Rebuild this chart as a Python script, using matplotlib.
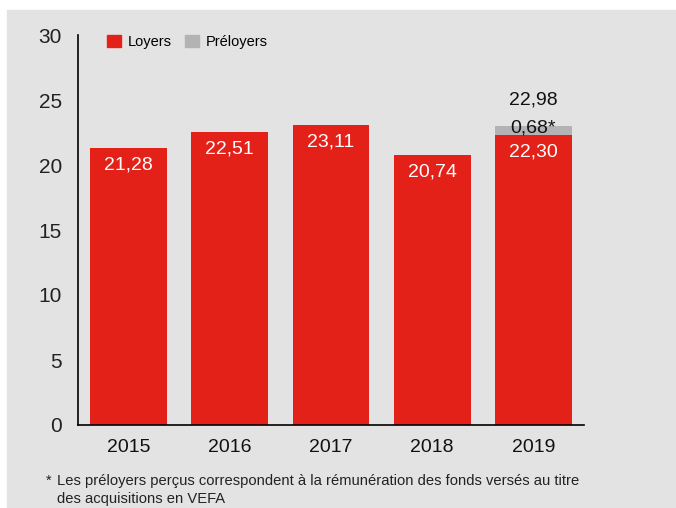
import matplotlib
matplotlib.use("Agg")
import matplotlib.pyplot as plt
from matplotlib.patches import Patch

years = ["2015", "2016", "2017", "2018", "2019"]
loyers = [21.28, 22.51, 23.11, 20.74, 22.30]
preloyers = [0, 0, 0, 0, 0.68]
totals = [21.28, 22.51, 23.11, 20.74, 22.98]
labels_loyers = ["21,28", "22,51", "23,11", "20,74", "22,30"]

red = "#e32119"
grey = "#b3b3b3"
bg = "#e3e3e3"

plt.rcParams["font.family"] = ["Liberation Sans", "DejaVu Sans"]
narrow = ["Liberation Sans Narrow", "Liberation Sans", "DejaVu Sans"]

fig = plt.figure(figsize=(6.76, 5.08), dpi=100)
# grey panel with white strip on top and left
fig.patches.append(plt.Rectangle((7 / 676, 0), 1, 1 - 10 / 508, transform=fig.transFigure,
                                 color=bg, zorder=-10))
ax = fig.add_axes([78 / 676, 83 / 508, 506 / 676, 390 / 508])
ax.set_facecolor("none")

x = range(len(years))
ax.bar(x, loyers, width=0.76, color=red, zorder=2)
ax.bar(x, preloyers, width=0.76, bottom=loyers, color=grey, zorder=2)

for i in x:
    ax.text(i, loyers[i] - 0.65, labels_loyers[i], ha="center", va="top",
            color="white", fontsize=14)
ax.text(4, totals[4] - 0.15, "0,68*", ha="center", va="center", color="#111111", fontsize=14)
ax.text(4, totals[4] + 2.0, "22,98", ha="center", va="center", color="#111111", fontsize=14)

ax.set_xlim(-0.5, 4.5)
ax.set_ylim(0, 30)
ax.set_yticks([0, 5, 10, 15, 20, 25, 30])
ax.set_xticks(list(x))
ax.set_xticklabels(years, family=narrow, fontsize=14)
ax.tick_params(axis="y", length=0, pad=11.5, labelsize=15, labelcolor="#222222")
ax.tick_params(axis="x", length=0, pad=10, labelcolor="#111111")
for s in ["top", "right"]:
    ax.spines[s].set_visible(False)
ax.spines["left"].set_linewidth(1.2)
ax.spines["bottom"].set_linewidth(1.2)

handles = [Patch(color=red, label="Loyers"), Patch(color=grey, label="Préloyers")]
ax.legend(handles=handles, loc="upper left", bbox_to_anchor=(0.045, 1.015), ncol=2,
          frameon=False, fontsize=10.5, handlelength=1.0, handleheight=0.9,
          handletextpad=0.45, columnspacing=0.9, borderaxespad=0)

fig.text(46 / 676, 1 - 481 / 508, "*", family=narrow, fontsize=10.5, va="center", color="#222222")
fig.text(57 / 676, 1 - 481 / 508,
         "Les préloyers perçus correspondent à la rémunération des fonds versés au titre",
         family=narrow, fontsize=10.6, va="center", color="#222222")
fig.text(57 / 676, 1 - 499 / 508, "des acquisitions en VEFA",
         family=narrow, fontsize=10.6, va="center", color="#222222")

fig.savefig("out.png", dpi=100)
